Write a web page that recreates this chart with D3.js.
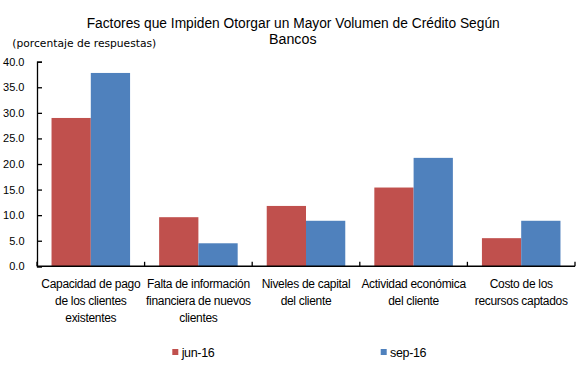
<!DOCTYPE html>
<html>
<head>
<meta charset="utf-8">
<script src="https://cdn.jsdelivr.net/npm/d3@7"></script>
<style>
  body { margin: 0; background: #fff; }
  text { font-family: "Liberation Sans", Arial, sans-serif; fill: #000; }
</style>
</head>
<body>
<div id="chart"></div>
<script>
"use strict";

// categories, series, values
const categories = [
  ["Capacidad de pago", "de los clientes", "existentes"],
  ["Falta de información", "financiera de nuevos", "clientes"],
  ["Niveles de capital", "del cliente"],
  ["Actividad económica", "del cliente"],
  ["Costo de los", "recursos captados"]
];
const seriesNames = ["jun-16", "sep-16"];
const jun16 = [29.0, 9.6, 11.8, 15.4, 5.5];
const sep16 = [37.8, 4.5, 8.9, 21.2, 8.9];
const yTicks = [0, 5, 10, 15, 20, 25, 30, 35, 40];
const colors = ["#C0504D", "#4F81BD"];

const width = 587, height = 371;
const margin = { top: 61.7, right: 12, bottom: 104.7, left: 37 };
const innerW = width - margin.left - margin.right;
const innerH = height - margin.top - margin.bottom;

const svg = d3.select("#chart").append("svg")
  .attr("width", width)
  .attr("height", height);

///////////////////////////
// title
///////////////////////////
svg.append("text")
  .attr("x", 86.7).attr("y", 27.7)
  .attr("textLength", 413)
  .attr("lengthAdjust", "spacingAndGlyphs")
  .style("font-size", "15.5px")
  .text("Factores que Impiden Otorgar un Mayor Volumen de Crédito Según");
svg.append("text")
  .attr("x", 269).attr("y", 43.5)
  .attr("textLength", 47.5)
  .attr("lengthAdjust", "spacingAndGlyphs")
  .style("font-size", "15.5px")
  .text("Bancos");
svg.append("text")
  .attr("x", 12.3).attr("y", 47)
  .attr("textLength", 144)
  .attr("lengthAdjust", "spacingAndGlyphs")
  .style("font-family", "'DejaVu Sans', sans-serif")
  .style("font-size", "10.8px")
  .text("(porcentaje de respuestas)");

const g = svg.append("g")
  .attr("transform", `translate(${margin.left},${margin.top})`);

///////////////////////////
// scales
///////////////////////////
const idx = d3.range(categories.length);
const x0 = d3.scaleBand().domain(idx).range([0, innerW]).padding(0);
const x1 = d3.scaleBand().domain([0, 1]).range([0, x0.bandwidth()])
  .paddingInner(0).paddingOuter(0.37);
const y = d3.scaleLinear().domain([0, 40]).range([innerH, 0]);

///////////////////////////
// bars
///////////////////////////
const rows = idx.map((i) => [jun16[i], sep16[i]]);
g.selectAll("g.cat")
  .data(rows)
  .enter()
  .append("g")
  .attr("transform", (d, i) => `translate(${x0(i)},0)`)
  .selectAll("rect")
  .data((d) => d)
  .enter()
  .append("rect")
  .attr("x", (d, j) => x1(j))
  .attr("y", (d) => y(d))
  .attr("width", x1.bandwidth())
  .attr("height", (d) => innerH - y(d))
  .style("fill", (d, j) => colors[j]);

///////////////////////////
// axes
///////////////////////////
const yAxis = g.append("g")
  .call(d3.axisLeft(y).tickValues(yTicks).tickSize(-5).tickPadding(12.5)
    .tickFormat(d3.format(".1f")));
yAxis.select(".domain").attr("stroke", "#000").attr("stroke-width", 1.3);
yAxis.selectAll(".tick line").attr("stroke", "#000").attr("stroke-width", 1.3);
yAxis.selectAll("text")
  .style("font-family", "'Liberation Sans', Arial, sans-serif")
  .style("font-size", "11px")
  .attr("fill", "#000");

const xb = d3.scaleLinear().domain([0, categories.length]).range([0, innerW]);
const xAxis = g.append("g").attr("transform", `translate(0,${innerH})`);
xAxis.append("line")
  .attr("x1", 0).attr("x2", innerW)
  .attr("stroke", "#000").attr("stroke-width", 1.6);
xAxis.selectAll("line.tk")
  .data(d3.range(categories.length + 1))
  .enter()
  .append("line")
  .attr("x1", (d) => xb(d)).attr("x2", (d) => xb(d))
  .attr("y1", 0).attr("y2", -4.5)
  .attr("stroke", "#000").attr("stroke-width", 1.3);

xAxis.selectAll("text.lab")
  .data(categories)
  .enter()
  .append("text")
  .attr("text-anchor", "middle")
  .style("font-size", "12px")
  .style("letter-spacing", "-0.3px")
  .selectAll("tspan")
  .data((d, i) => d.map((t) => ({ t, i })))
  .enter()
  .append("tspan")
  .attr("x", (d) => x0(d.i) + x0.bandwidth() / 2)
  .attr("y", (d, k) => 22 + k * 16.7)
  .text((d) => d.t);

///////////////////////////
// legend
///////////////////////////
const legX = [172.3, 380.7];
const legend = svg.selectAll("g.leg")
  .data(seriesNames)
  .enter()
  .append("g")
  .attr("transform", (d, i) => `translate(${legX[i]},352)`);
legend.append("rect")
  .attr("x", 0).attr("y", -3)
  .attr("width", 6).attr("height", 6)
  .style("fill", (d, i) => colors[i]);
legend.append("text")
  .attr("x", 9.4).attr("y", 4.7)
  .style("font-size", "12.5px")
  .style("letter-spacing", "-0.35px")
  .text((d) => d);
</script>
</body>
</html>
